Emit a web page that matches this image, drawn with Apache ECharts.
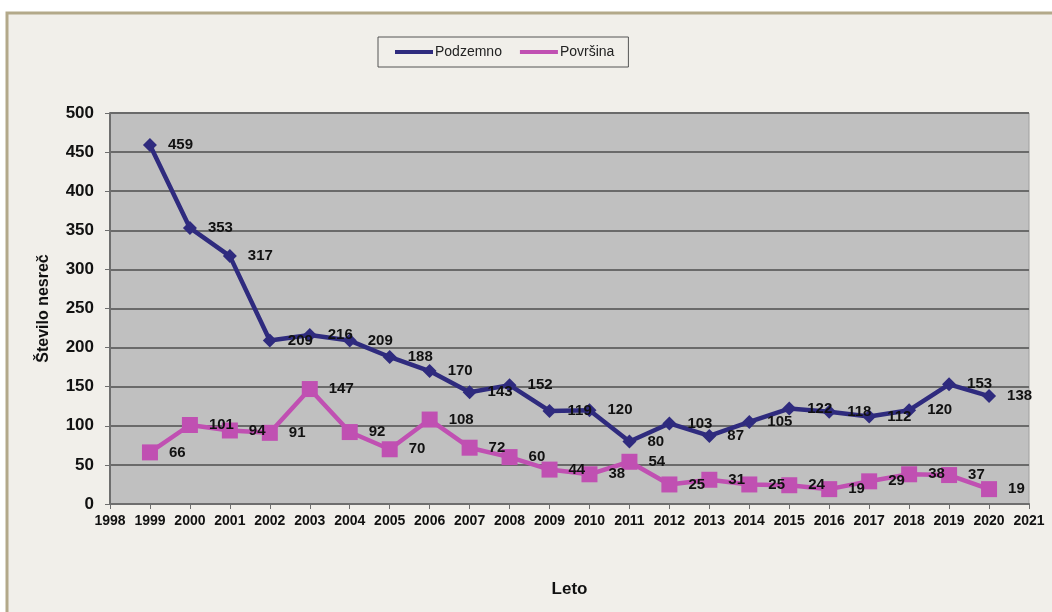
<!DOCTYPE html>
<html>
<head>
<meta charset="utf-8">
<script src="https://cdn.jsdelivr.net/npm/echarts@6/dist/echarts.min.js"></script>
<style>
  html, body { margin: 0; padding: 0; background: #ffffff; }
  #chart { width: 1052px; height: 612px; }
</style>
</head>
<body>
<div id="chart"></div>
<script>
// Število nesreč po letih: podzemno in na površini
const years = [1999, 2000, 2001, 2002, 2003, 2004, 2005, 2006, 2007, 2008, 2009,
               2010, 2011, 2012, 2013, 2014, 2015, 2016, 2017, 2018, 2019, 2020];
const podzemno = [459, 353, 317, 209, 216, 209, 188, 170, 143, 152, 119,
                  120, 80, 103, 87, 105, 122, 118, 112, 120, 153, 138];
const povrsina = [66, 101, 94, 91, 147, 92, 70, 108, 72, 60, 44,
                  38, 54, 25, 31, 25, 24, 19, 29, 38, 37, 19];
const seriesNames = ['Podzemno', 'Površina'];
const axisTitles = { x: 'Leto', y: 'Število nesreč' };

const FONT = 'Arial, "Liberation Sans", Helvetica, sans-serif';

function pairs(vals) {
  return years.map((y, i) => [y, vals[i]]);
}

const chart = echarts.init(document.getElementById('chart'), null, { renderer: 'canvas' });

const dataLabel = {
  show: true,
  position: 'right',
  distance: 11,
  color: '#111111',
  fontFamily: FONT,
  fontWeight: 'bold',
  fontSize: 15
};

chart.setOption({
  animation: false,
  backgroundColor: '#ffffff',
  graphic: [{
    type: 'rect',
    z: -10,
    silent: true,
    shape: { x: 7, y: 13, width: 1060, height: 610 },
    style: { fill: '#f1efea', stroke: '#b3a98a', lineWidth: 3 }
  }],
  legend: {
    data: seriesNames,
    left: 378,
    top: 37,
    padding: [8, 14, 8, 17],
    itemGap: 18,
    itemWidth: 38,
    itemHeight: 4,
    icon: 'rect',
    borderColor: '#555555',
    borderWidth: 1,
    backgroundColor: '#f1efea',
    textStyle: { color: '#222222', fontFamily: FONT, fontSize: 14, padding: [0, 0, 0, -3] }
  },
  grid: {
    left: 110,
    right: 23,
    top: 113,
    bottom: 108,
    show: true,
    backgroundColor: '#c0c0c0',
    borderColor: '#a0a0a0',
    borderWidth: 1
  },
  xAxis: {
    type: 'value',
    min: 1998,
    max: 2021,
    interval: 1,
    name: axisTitles.x,
    nameLocation: 'middle',
    nameGap: 77,
    nameTextStyle: { color: '#111111', fontFamily: FONT, fontWeight: 'bold', fontSize: 17 },
    axisLine: { show: true, onZero: false, lineStyle: { color: '#6e6e6e', width: 2 } },
    axisTick: { show: true, inside: false, length: 5, lineStyle: { color: '#6e6e6e', width: 1 } },
    axisLabel: {
      margin: 10,
      color: '#111111',
      fontFamily: FONT,
      fontWeight: 'bold',
      fontSize: 14,
      formatter: v => String(v)
    },
    splitLine: { show: false }
  },
  yAxis: {
    type: 'value',
    min: 0,
    max: 500,
    interval: 50,
    name: axisTitles.y,
    nameLocation: 'middle',
    nameGap: 58,
    nameTextStyle: { color: '#111111', fontFamily: FONT, fontWeight: 'bold', fontSize: 16 },
    axisLine: { show: true, lineStyle: { color: '#6e6e6e', width: 2 } },
    axisTick: { show: true, inside: false, length: 5, lineStyle: { color: '#6e6e6e', width: 1 } },
    axisLabel: {
      margin: 16,
      color: '#111111',
      fontFamily: FONT,
      fontWeight: 'bold',
      fontSize: 17
    },
    splitLine: { show: true, lineStyle: { color: '#6a6a6a', width: 2 } }
  },
  series: [
    {
      name: seriesNames[0],
      type: 'line',
      data: pairs(podzemno),
      symbol: 'diamond',
      symbolSize: 14,
      color: '#2f2b7e',
      lineStyle: { color: '#2f2b7e', width: 4.5 },
      itemStyle: { color: '#2f2b7e' },
      label: dataLabel,
      z: 3
    },
    {
      name: seriesNames[1],
      type: 'line',
      data: pairs(povrsina),
      symbol: 'rect',
      symbolSize: 16,
      color: '#c050b2',
      lineStyle: { color: '#c050b2', width: 4.5 },
      itemStyle: { color: '#c050b2' },
      label: dataLabel,
      z: 2
    }
  ]
});
</script>
</body>
</html>
